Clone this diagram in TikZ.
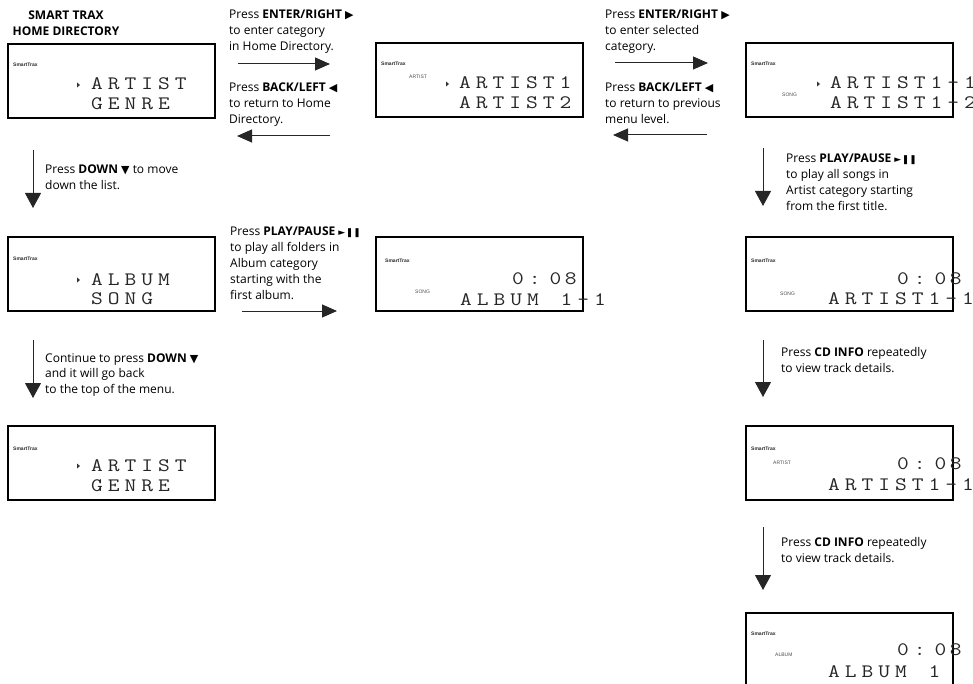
\documentclass[tikz,border=0pt]{standalone}
\usepackage{fontspec}
\setmainfont{Open Sans}
\newfontfamily\symfont{DejaVu Sans}
\newfontfamily\brandfont{Liberation Sans}
\usetikzlibrary{arrows.meta}
\makeatletter
\newcommand\lsp[1]{\@tfor\lspnext:=#1\do{\scalebox{1.2}[1]{\lspnext}\kern5pt}}
\makeatother
\newcommand\wch[1]{\scalebox{1.2}[1]{#1}}
\newcommand\rtri{{\symfont\fontsize{11}{11}\selectfont ▶}}
\newcommand\ltri{{\symfont\fontsize{11}{11}\selectfont ◀}}
\newcommand\dtri{{\symfont\fontsize{11}{11}\selectfont ▼}}
\newcommand\playpause{{\symfont\fontsize{9}{9}\selectfont ►\kern0.5pt❚❚}}
\newcommand\clock{\wch{0}\kern5pt\wch{:}\kern9pt\wch{0}\kern3.5pt\wch{8}}
\begin{document}
\begin{tikzpicture}[x=1pt,y=-1pt,
  box/.style={draw=black, line width=1.5pt, minimum width=207pt, minimum height=74pt, anchor=north west, inner sep=0pt, outer sep=0pt},
  brand/.style={font=\brandfont\bfseries\fontsize{5}{6}\selectfont, anchor=base west, inner sep=0pt, text=black!85},
  lab/.style={font=\brandfont\fontsize{5}{6}\selectfont, anchor=base west, inner sep=0pt, text=black!70},
  lcdt/.style={font=\ttfamily\fontsize{19}{19}\selectfont, anchor=base west, inner sep=0pt, text=black!85},
  cursor/.style={fill=black!80},
  txt/.style={font=\fontsize{12}{15.8}\selectfont, anchor=base west, inner sep=0pt, align=left, text=black},
  arr/.style={line width=1pt, draw=black!85, -{Triangle[length=15pt,width=13pt]}},
  darr/.style={line width=1pt, draw=black!85, -{Triangle[length=15pt,width=16pt]}}
]
\useasboundingbox (0,0) rectangle (973,684);

% title (anchor base = baseline of last line)
\node[font=\bfseries\fontsize{12}{15.8}\selectfont, anchor=base, inner sep=0pt, align=center] (title) at (66,35.3) {SMART TRAX\\HOME DIRECTORY};

% ---------- box 1: home directory
\begin{scope}[shift={(8,44)}]
\node[box] (b1) at (0,0) {};
\node[brand] (b1s) at (5,23) {SmartTrax};
\fill[cursor] (69,38.5) -- (72,41) -- (69,43.5) -- cycle;
\node[lcdt] (b1a) at (83,46) {\lsp{ARTIST}};
\node[lcdt] (b1b) at (83,66) {\lsp{GENRE}};
\end{scope}

% ---------- box 2: artist list
\begin{scope}[shift={(376,43)}]
\node[box] (b2) at (0,0) {};
\node[brand] (b2s) at (5,23) {SmartTrax};
\node[lab] (b2l) at (33,36) {ARTIST};
\fill[cursor] (70,38.5) -- (73,41) -- (70,43.5) -- cycle;
\node[lcdt] (b2a) at (83,46) {\lsp{ARTIST1}};
\node[lcdt] (b2b) at (83,66) {\lsp{ARTIST2}};
\end{scope}

% ---------- box 3: song list
\begin{scope}[shift={(746,43)}]
\node[box] (b3) at (0,0) {};
\node[brand] (b3s) at (5,23) {SmartTrax};
\node[lab] (b3l) at (36,54) {SONG};
\fill[cursor] (71,38.5) -- (74,41) -- (71,43.5) -- cycle;
\node[lcdt] (b3a) at (84,46) {\lsp{ARTIST1-1}};
\node[lcdt] (b3b) at (84,66) {\lsp{ARTIST1-2}};
\end{scope}

% ---------- box 7: album
\begin{scope}[shift={(8,237)}]
\node[box] (b7) at (0,0) {};
\node[brand] (b7s) at (5,24) {SmartTrax};
\fill[cursor] (69,40.5) -- (72,43) -- (69,45.5) -- cycle;
\node[lcdt] (b7a) at (83,48) {\lsp{ALBUM}};
\node[lcdt] (b7b) at (83,67) {\lsp{SONG}};
\end{scope}

% ---------- box 8: album playing
\begin{scope}[shift={(376,237)}]
\node[box] (b8) at (0,0) {};
\node[brand] (b8s) at (9,25) {SmartTrax};
\node[lab] (b8l) at (39,57) {SONG};
\node[lcdt] (b8a) at (136,47) {\clock};
\node[lcdt] (b8b) at (84,68) {\lsp{ALBUM~1-1}};
\end{scope}

% ---------- box 9: back to top
\begin{scope}[shift={(8,426)}]
\node[box] (b9) at (0,0) {};
\node[brand] (b9s) at (5,24) {SmartTrax};
\fill[cursor] (69,37.5) -- (72,40) -- (69,42.5) -- cycle;
\node[lcdt] (b9a) at (83,45) {\lsp{ARTIST}};
\node[lcdt] (b9b) at (83,65) {\lsp{GENRE}};
\end{scope}

% ---------- box 4: song playing
\begin{scope}[shift={(746,237)}]
\node[box] (b4) at (0,0) {};
\node[brand] (b4s) at (5,26) {SmartTrax};
\node[lab] (b4l) at (34,58) {SONG};
\node[lcdt] (b4a) at (151,47) {\clock};
\node[lcdt] (b4b) at (82,67) {\lsp{ARTIST1-1}};
\end{scope}

% ---------- box 5: artist info
\begin{scope}[shift={(746,426)}]
\node[box] (b5) at (0,0) {};
\node[brand] (b5s) at (5,24) {SmartTrax};
\node[lab] (b5l) at (27,38) {ARTIST};
\node[lcdt] (b5a) at (151,43) {\clock};
\node[lcdt] (b5b) at (82,64) {\lsp{ARTIST1-1}};
\end{scope}

% ---------- box 6: album info
\begin{scope}[shift={(746,613)}]
\node[box] (b6) at (0,0) {};
\node[brand] (b6s) at (5,22) {SmartTrax};
\node[lab] (b6l) at (29,43) {ALBUM};
\node[lcdt] (b6a) at (151,42) {\clock};
\node[lcdt] (b6b) at (82,64) {\lsp{ALBUM~1}};
\end{scope}

% ---------- instruction texts (anchor base = baseline of last line)
\node[txt] (t1) at (229,50.1) {Press \textbf{ENTER/RIGHT} \rtri\\to enter category\\in Home Directory.};
\node[txt] (t2) at (229,123.1) {Press \textbf{BACK/LEFT} \ltri\\to return to Home\\Directory.};
\node[txt] (t3) at (605,50.1) {Press \textbf{ENTER/RIGHT} \rtri\\to enter selected\\category.};
\node[txt] (t4) at (605,123.1) {Press \textbf{BACK/LEFT} \ltri\\to return to previous\\menu level.};
\node[txt] (t5) at (45,189.3) {Press \textbf{DOWN} \dtri\ to move\\down the list.};
\node[txt] (t6) at (230,299.2) {Press \textbf{PLAY/PAUSE} \playpause\\to play all folders in\\Album category\\starting with the\\first album.};
\node[txt] (t7) at (45,393.6) {Continue to press \textbf{DOWN} \dtri\\and it will go back\\to the top of the menu.};
\node[txt] (t8) at (786,210.4) {Press \textbf{PLAY/PAUSE} \playpause\\to play all songs in\\Artist category starting\\from the first title.};
\node[txt] (t9) at (781,372.3) {Press \textbf{CD INFO} repeatedly\\to view track details.};
\node[txt] (t10) at (781,562.3) {Press \textbf{CD INFO} repeatedly\\to view track details.};

% ---------- arrows
\coordinate (a1s) at (238,64);  \coordinate (a1e) at (330,64);
\coordinate (a2s) at (330,136); \coordinate (a2e) at (237,136);
\coordinate (a3s) at (615,63);  \coordinate (a3e) at (708,63);
\coordinate (a4s) at (707,135); \coordinate (a4e) at (613,135);
\coordinate (a5s) at (33,150);  \coordinate (a5e) at (33,208);
\coordinate (a6s) at (242,311); \coordinate (a6e) at (337,311);
\coordinate (a7s) at (33,340);  \coordinate (a7e) at (33,398);
\coordinate (a8s) at (763,148); \coordinate (a8e) at (763,206);
\coordinate (a9s) at (763,340); \coordinate (a9e) at (763,397);
\coordinate (a10s) at (763,527); \coordinate (a10e) at (763,590);
\draw[arr] (a1s) -- (a1e);
\draw[arr] (a2s) -- (a2e);
\draw[arr] (a3s) -- (a3e);
\draw[arr] (a4s) -- (a4e);
\draw[arr] (a6s) -- (a6e);
\draw[darr] (a5s) -- (a5e);
\draw[darr] (a7s) -- (a7e);
\draw[darr] (a8s) -- (a8e);
\draw[darr] (a9s) -- (a9e);
\draw[darr] (a10s) -- (a10e);
\end{tikzpicture}
\end{document}
